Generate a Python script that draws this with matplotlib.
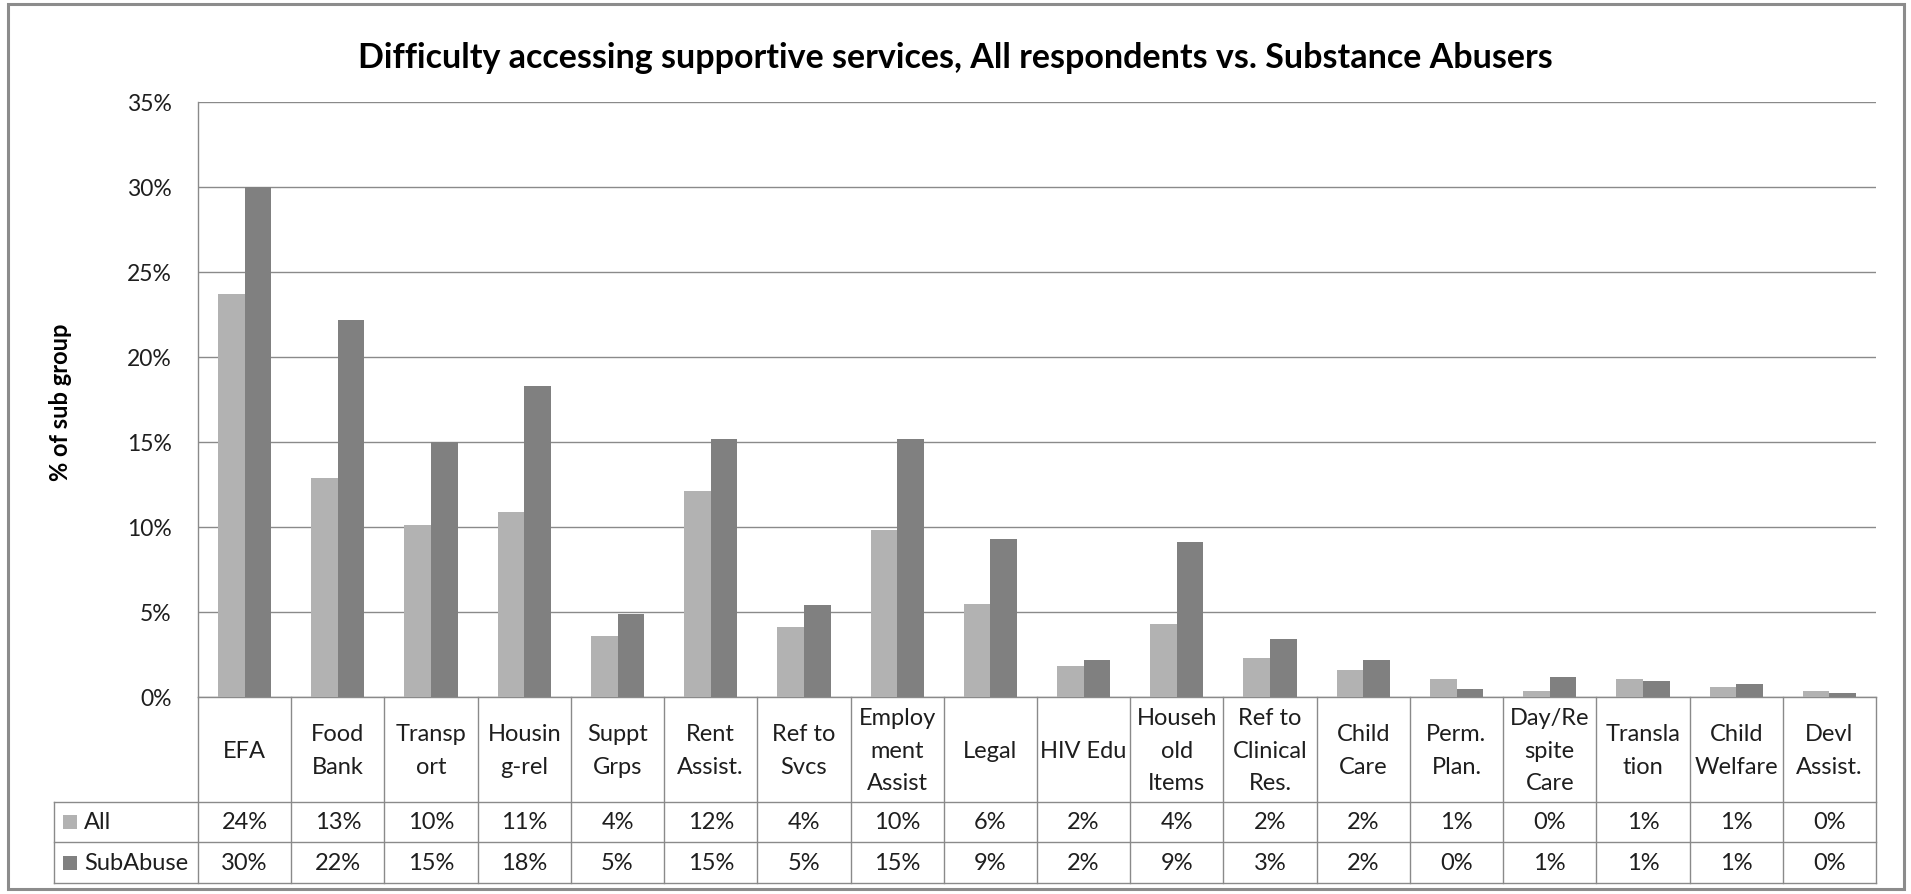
import matplotlib
matplotlib.use("Agg")
import matplotlib.pyplot as plt
from matplotlib.patches import Rectangle
import numpy as np

# services and share of each sub group reporting difficulty (%)
categories = ["EFA", "Food\nBank", "Transp\nort", "Housin\ng-rel", "Suppt\nGrps",
              "Rent\nAssist.", "Ref to\nSvcs", "Employ\nment\nAssist", "Legal",
              "HIV Edu", "Househ\nold\nItems", "Ref to\nClinical\nRes.", "Child\nCare",
              "Perm.\nPlan.", "Day/Re\nspite\nCare", "Transla\ntion", "Child\nWelfare",
              "Devl\nAssist."]
all_pct = [23.7, 12.9, 10.1, 10.9, 3.6, 12.1, 4.1, 9.8, 5.5,
           1.8, 4.3, 2.3, 1.6, 1.05, 0.35, 1.05, 0.6, 0.35]
subabuse_pct = [30.0, 22.2, 15.0, 18.3, 4.9, 15.2, 5.4, 15.2, 9.3,
                2.2, 9.1, 3.4, 2.2, 0.45, 1.2, 0.95, 0.75, 0.23]
series = ["All", "SubAbuse"]
y_ticks = [0, 5, 10, 15, 20, 25, 30, 35]

title = "Difficulty accessing supportive services, All respondents vs. Substance Abusers"
COLS = ["#B2B2B2", "#808080"]
GRID = "#8A8A8A"
TXT = "#1E1E1E"
plt.rcParams["font.family"] = ["Lato", "DejaVu Sans"]

W, H = 1911, 895
fig = plt.figure(figsize=(W / 100, H / 100), dpi=100)
fig.patch.set_facecolor("white")

# plot area in pixels
X0, X1, Y0, Y1 = 198, 1876, 103, 698
ax = fig.add_axes([X0 / W, 1 - Y1 / H, (X1 - X0) / W, (Y1 - Y0) / H])

n = len(categories)
x = np.arange(n)
bw = 1 / 3.5
data = [all_pct, subabuse_pct]
for k, vals in enumerate(data):
    ax.bar(x + (k - 0.5) * bw, vals, bw, color=COLS[k], lw=0, zorder=3)

ax.set_xlim(-0.5, n - 0.5)
ax.set_ylim(0, 35)
ax.set_yticks(y_ticks)
ax.set_yticklabels([f"{t}%" for t in y_ticks])
ax.set_xticks([])
ax.tick_params(axis="y", length=0, pad=19, labelsize=16.5, labelcolor=TXT)
ax.yaxis.grid(True, color=GRID, lw=1.0)
ax.set_axisbelow(True)
for s in ["top", "right"]:
    ax.spines[s].set_visible(False)
for s in ["left", "bottom"]:
    ax.spines[s].set_color(GRID)
    ax.spines[s].set_linewidth(1.0)

# overlay in pixel coordinates for frame, title and data table
ov = fig.add_axes([0, 0, 1, 1])
ov.set_xlim(0, W); ov.set_ylim(H, 0); ov.axis("off")
ov.patch.set_visible(False)

ov.add_patch(Rectangle((8, 5), 1896, 885, fill=False, ec="#8C8C8C", lw=2.2))

ov.text(955, 68, title, ha="center", va="baseline", fontsize=24.5,
        fontweight="bold", color="black")
ov.text(60, 402, "% of sub group", rotation=90, ha="center", va="center",
        fontsize=17, fontweight="bold", color="black")

# data table under the axis
R1, R2, R3 = 803, 843, 884
LX = 54
cw = (X1 - X0) / n
colx = [X0 + i * cw for i in range(n + 1)]
lk = dict(color=GRID, lw=1.0)
for yy in [R1, R2, R3]:
    ov.plot([LX, X1], [yy, yy], **lk)
for cx in colx:
    ov.plot([cx, cx], [Y1, R3], **lk)
ov.plot([LX, LX], [R1, R3], **lk)

for i, lab in enumerate(categories):
    ov.text(colx[i] + cw / 2, 751, lab, ha="center", va="center", fontsize=17,
            color=TXT, linespacing=1.65)

row_y = [(R1 + R2) / 2, (R2 + R3) / 2]
for k, vals in enumerate(data):
    ry = row_y[k]
    ov.add_patch(Rectangle((63, ry - 7), 14, 14, fc=COLS[k], ec="none"))
    ov.text(84, ry, series[k], ha="left", va="center", fontsize=17, color=TXT)
    for i, v in enumerate(vals):
        ov.text(colx[i] + cw / 2, ry, f"{v:.0f}%", ha="center", va="center",
                fontsize=17, color=TXT)

fig.savefig("out.png", dpi=100, facecolor="white")
